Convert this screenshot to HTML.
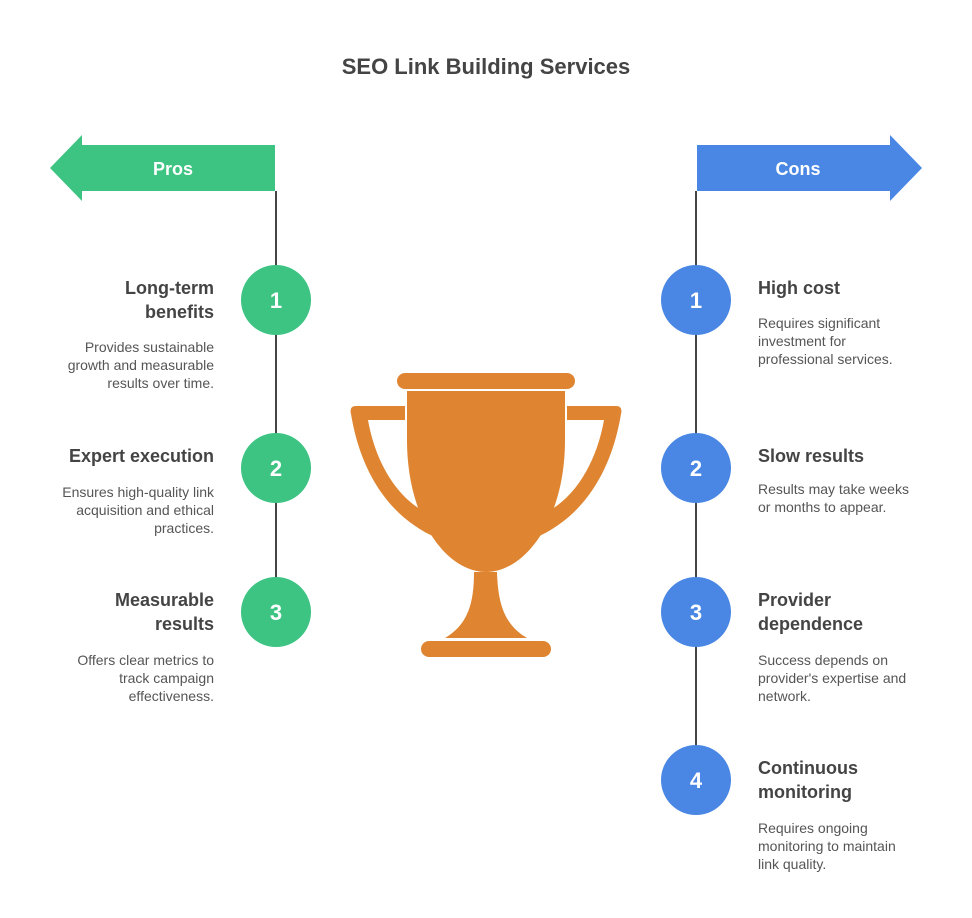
<!DOCTYPE html>
<html><head><meta charset="utf-8"><style>
body{margin:0;width:972px;height:918px;background:#fff;position:relative;font-family:"Liberation Sans",sans-serif;overflow:hidden}
.t{position:absolute;color:#444}
.h{font-size:18px;font-weight:bold;line-height:24px}
.d{font-size:14px;line-height:18px;color:#555}
.l{right:758px;text-align:right}
.r{left:758px;text-align:left}
</style></head><body>
<svg width="972" height="918" style="position:absolute;left:0;top:0">
<line x1="276" y1="191" x2="276" y2="612" stroke="#444" stroke-width="2"/>
<line x1="696" y1="191" x2="696" y2="780" stroke="#444" stroke-width="2"/>
<polygon points="50,168 82,135 82,145 275,145 275,191 82,191 82,201" fill="#3dc483"/>
<polygon points="922,168 890,135 890,145 697,145 697,191 890,191 890,201" fill="#4a87e4"/>
<text x="173" y="175" font-size="18" font-weight="bold" fill="#fff" text-anchor="middle" font-family="Liberation Sans">Pros</text>
<text x="798" y="175" font-size="18" font-weight="bold" fill="#fff" text-anchor="middle" font-family="Liberation Sans">Cons</text>
<g fill="#3dc483"><circle cx="276" cy="300" r="35"/><circle cx="276" cy="468" r="35"/><circle cx="276" cy="612" r="35"/></g>
<g fill="#4a87e4"><circle cx="696" cy="300" r="35"/><circle cx="696" cy="468" r="35"/><circle cx="696" cy="612" r="35"/><circle cx="696" cy="780" r="35"/></g>
<g fill="#fff" font-size="22" font-weight="bold" text-anchor="middle" font-family="Liberation Sans">
<text x="276" y="308">1</text><text x="276" y="476">2</text><text x="276" y="620">3</text>
<text x="696" y="308">1</text><text x="696" y="476">2</text><text x="696" y="620">3</text><text x="696" y="788">4</text></g>
<g fill="#df8531">
<rect x="397" y="373" width="178" height="16" rx="8"/>
<path d="M407,391 L565,391 L565,440 C565,520 525,572 486,572 C447,572 407,520 407,440 Z"/>
<path d="M405,406 L356,406 Q349,406 351,414 C362,480 395,520 437,538 L425,512 C395,496 375,460 368,420 L405,420 Z"/>
<path d="M567,406 L616,406 Q623,406 621,414 C610,480 577,520 535,538 L547,512 C577,496 597,460 604,420 L567,420 Z"/>
<path d="M474,572 L497,572 C498,605 505,625 527,638 L445,638 C467,625 474,605 474,572 Z"/>
<rect x="421" y="641" width="130" height="16" rx="8"/>
</g>
</svg>
<div class="t" style="left:0;width:972px;top:53px;text-align:center;font-size:22px;font-weight:bold;line-height:28px">SEO Link Building Services</div>

<div class="t h l" style="top:276px">Long-term<br>benefits</div>
<div class="t d l" style="top:338px">Provides sustainable<br>growth and measurable<br>results over time.</div>
<div class="t h l" style="top:444px">Expert execution</div>
<div class="t d l" style="top:483px">Ensures high-quality link<br>acquisition and ethical<br>practices.</div>
<div class="t h l" style="top:588px">Measurable<br>results</div>
<div class="t d l" style="top:651px">Offers clear metrics to<br>track campaign<br>effectiveness.</div>

<div class="t h r" style="top:276px">High cost</div>
<div class="t d r" style="top:314px">Requires significant<br>investment for<br>professional services.</div>
<div class="t h r" style="top:444px">Slow results</div>
<div class="t d r" style="top:480px">Results may take weeks<br>or months to appear.</div>
<div class="t h r" style="top:588px">Provider<br>dependence</div>
<div class="t d r" style="top:651px">Success depends on<br>provider's expertise and<br>network.</div>
<div class="t h r" style="top:756px">Continuous<br>monitoring</div>
<div class="t d r" style="top:819px">Requires ongoing<br>monitoring to maintain<br>link quality.</div>
</body></html>
